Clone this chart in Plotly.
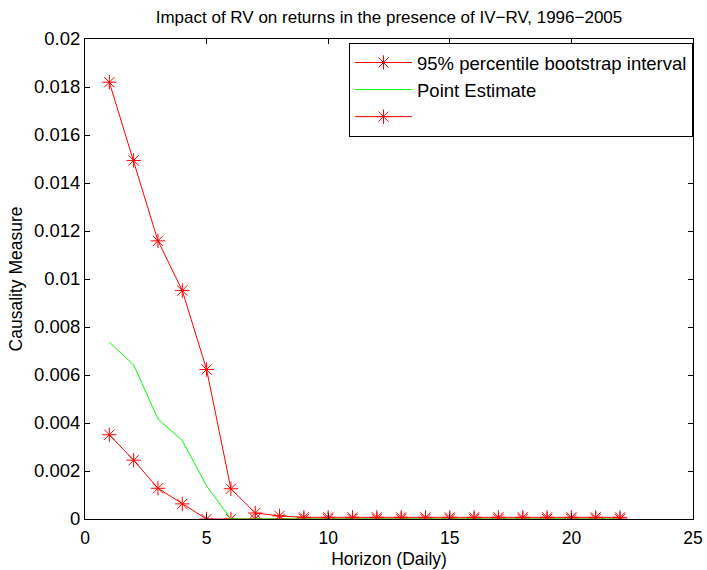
import plotly.graph_objects as go

# Forecast horizons (days)
horizon = list(range(1, 23))

# Lower bound of the 95% percentile bootstrap interval
lower_bound = [0.00351, 0.00245, 0.00128, 0.00063, 0.0, 0.0, 0.0, 0.0, 0.0, 0.0, 0.0,
               0.0, 0.0, 0.0, 0.0, 0.0, 0.0, 0.0, 0.0, 0.0, 0.0, 0.0]

# Point estimate of the causality measure
point_estimate = [0.00737, 0.00642, 0.00417, 0.00327, 0.00138, 0.0, 0.0, 0.0, 0.0, 0.0, 0.0,
                  0.0, 0.0, 0.0, 0.0, 0.0, 0.0, 0.0, 0.0, 0.0, 0.0, 0.0]

# Upper bound of the 95% percentile bootstrap interval
upper_bound = [0.0182, 0.01494, 0.01159, 0.00952, 0.00623, 0.00126, 0.00025, 0.00013,
               0.00007, 0.00007, 0.00007, 0.00007, 0.00007, 0.00007, 0.00007, 0.00007,
               0.00007, 0.00007, 0.00007, 0.00007, 0.00007, 0.00007]

x_ticks = [0, 5, 10, 15, 20, 25]
y_ticks = [0, 0.002, 0.004, 0.006, 0.008, 0.01, 0.012, 0.014, 0.016, 0.018, 0.02]
y_tick_text = ["0", "0.002", "0.004", "0.006", "0.008", "0.01", "0.012", "0.014",
               "0.016", "0.018", "0.02"]

FONT = "Liberation Sans, Arial, Helvetica, sans-serif"
RED = "#ff0000"
GREEN = "#00ff00"

star = dict(symbol="asterisk-open", size=12, color=RED, line=dict(color=RED, width=1))

fig = go.Figure()
fig.add_trace(go.Scatter(
    x=horizon, y=lower_bound, mode="lines+markers",
    name="95% percentile bootstrap interval",
    line=dict(color=RED, width=1), marker=star,
))
fig.add_trace(go.Scatter(
    x=horizon, y=point_estimate, mode="lines",
    name="Point Estimate",
    line=dict(color=GREEN, width=1),
))
fig.add_trace(go.Scatter(
    x=horizon, y=upper_bound, mode="lines+markers",
    name=" ",
    line=dict(color=RED, width=1), marker=star,
))

axis_common = dict(
    showline=True, linecolor="black", linewidth=1, mirror="ticks",
    ticks="inside", ticklen=5, tickwidth=1, tickcolor="black",
    showgrid=False, zeroline=False, automargin=False,
)

fig.update_layout(
    width=707, height=570,
    margin=dict(l=85, r=14, t=39, b=51),
    paper_bgcolor="white", plot_bgcolor="white",
    font=dict(family=FONT, size=17, color="black"),
    title=dict(
        text="Impact of RV on returns in the presence of IV\u2212RV, 1996\u22122005",
        x=(85 + 693) / 2 / 707, xanchor="center",
        y=1 - 17 / 570, yanchor="middle", yref="container",
        font=dict(family=FONT, size=17, color="black"),
    ),
    xaxis=dict(
        range=[0, 25], tickvals=x_ticks,
        tickfont=dict(family=FONT, size=17.5, color="black"),
        ticklabelstandoff=3,
        title=dict(text="Horizon (Daily)", standoff=5,
                   font=dict(family=FONT, size=17.5, color="black")),
        **axis_common,
    ),
    yaxis=dict(
        range=[0, 0.02], tickvals=y_ticks, ticktext=y_tick_text,
        tickfont=dict(family=FONT, size=18.5, color="black"),
        title=dict(text="Causality Measure", standoff=6,
                   font=dict(family=FONT, size=17.5, color="black")),
        **axis_common,
    ),
    legend=dict(
        x=1, xanchor="right", y=1 - 4 / 480, yanchor="top",
        bgcolor="white", bordercolor="black", borderwidth=1,
        font=dict(family=FONT, size=18.5, color="black"),
        itemwidth=57,
        tracegroupgap=0,
    ),
    showlegend=True,
)

fig.write_html("out.html")
